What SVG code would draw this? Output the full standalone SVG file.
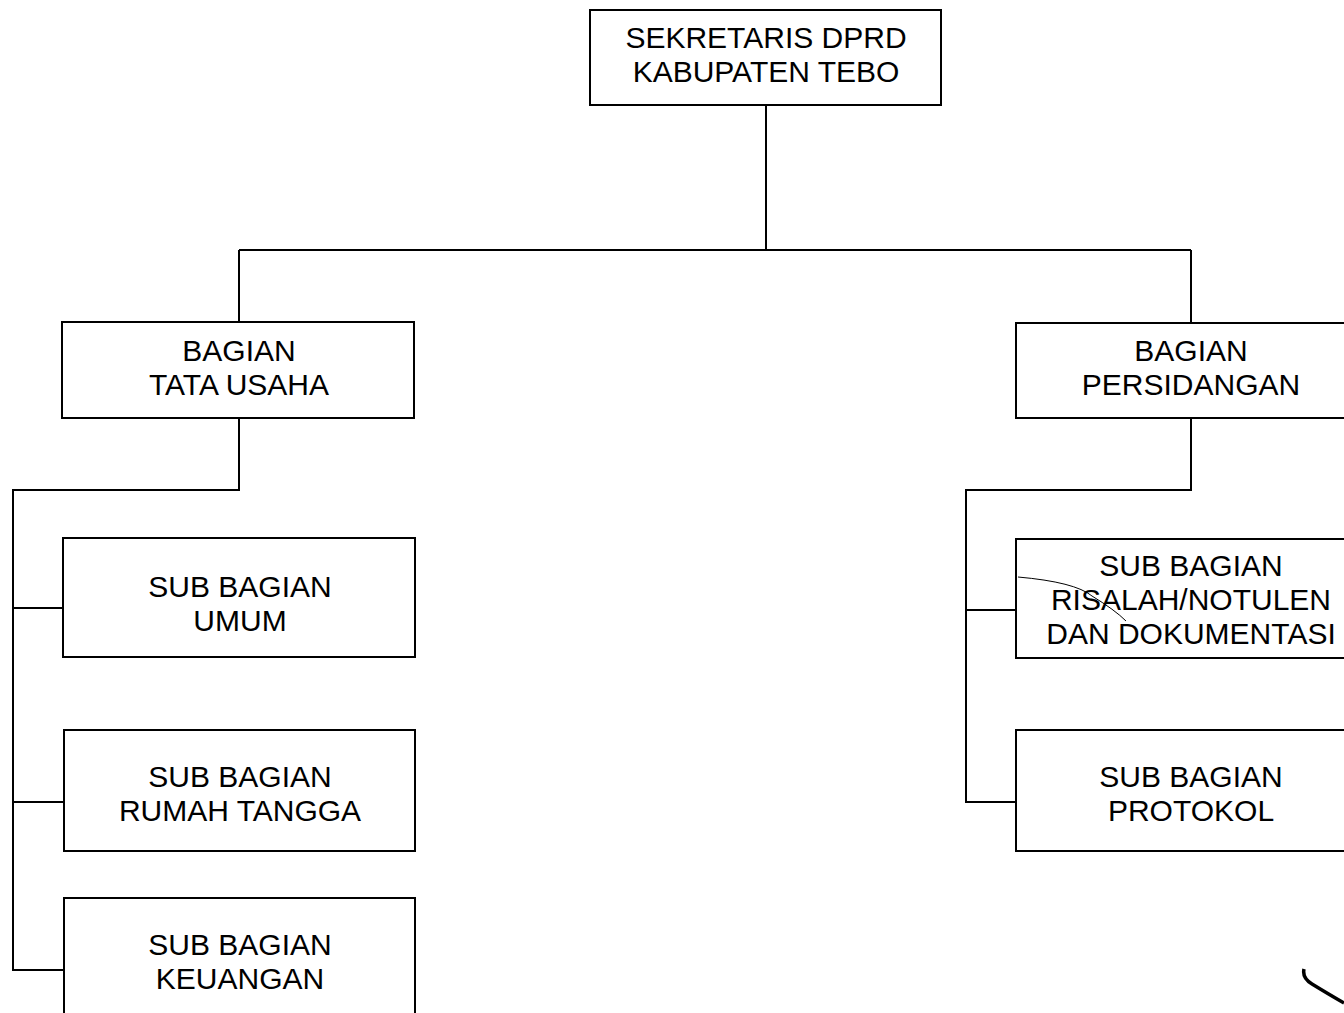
<svg xmlns="http://www.w3.org/2000/svg" width="1344" height="1013" viewBox="0 0 1344 1013">
<style>
.box{fill:#fff;stroke:#000;stroke-width:2}
.t{font-family:"Liberation Sans",Arial,sans-serif;font-size:30px;fill:#000;text-anchor:middle}
.c{fill:none;stroke:#000;stroke-width:2}
</style>
<rect width="1344" height="1013" fill="#fff"/>
<g id="connectors">
<path class="c" d="M766 105V250M239 250H1191M239 250V322M1191 250V323"/>
<path class="c" d="M239 418V490H13V970H64M13 608H63M13 802H64"/>
<path class="c" d="M1191 418V490H966V802H1016M966 610H1016"/>
</g>
<g id="sekretaris"><rect class="box" x="590" y="10" width="351" height="95"/><text class="t" x="766" y="48">SEKRETARIS DPRD</text><text class="t" x="766" y="82">KABUPATEN TEBO</text></g>
<g id="tata-usaha"><rect class="box" x="62" y="322" width="352" height="96"/><text class="t" x="239" y="361">BAGIAN</text><text class="t" x="239" y="395">TATA USAHA</text></g>
<g id="persidangan"><rect class="box" x="1016" y="323" width="352" height="95"/><text class="t" x="1191" y="361">BAGIAN</text><text class="t" x="1191" y="395">PERSIDANGAN</text></g>
<g id="umum"><rect class="box" x="63" y="538" width="352" height="119"/><text class="t" x="240" y="597">SUB BAGIAN</text><text class="t" x="240" y="631">UMUM</text></g>
<g id="rumah-tangga"><rect class="box" x="64" y="730" width="351" height="121"/><text class="t" x="240" y="787">SUB BAGIAN</text><text class="t" x="240" y="821">RUMAH TANGGA</text></g>
<g id="keuangan"><rect class="box" x="64" y="898" width="351" height="130"/><text class="t" x="240" y="955">SUB BAGIAN</text><text class="t" x="240" y="989">KEUANGAN</text></g>
<g id="risalah"><rect class="box" x="1016" y="539" width="352" height="119"/><text class="t" x="1191" y="576">SUB BAGIAN</text><text class="t" x="1191" y="610">RISALAH/NOTULEN</text><text class="t" x="1191" y="644">DAN DOKUMENTASI</text></g>
<g id="protokol"><rect class="box" x="1016" y="730" width="352" height="121"/><text class="t" x="1191" y="787">SUB BAGIAN</text><text class="t" x="1191" y="821">PROTOKOL</text></g>
<path d="M1018 577Q1075 582 1092 596Q1115 610 1126 621" fill="none" stroke="#000" stroke-width="1"/>
<path d="M1304 969Q1302 978 1312 984Q1330 995 1344 1003" fill="none" stroke="#000" stroke-width="3.5"/>
</svg>
